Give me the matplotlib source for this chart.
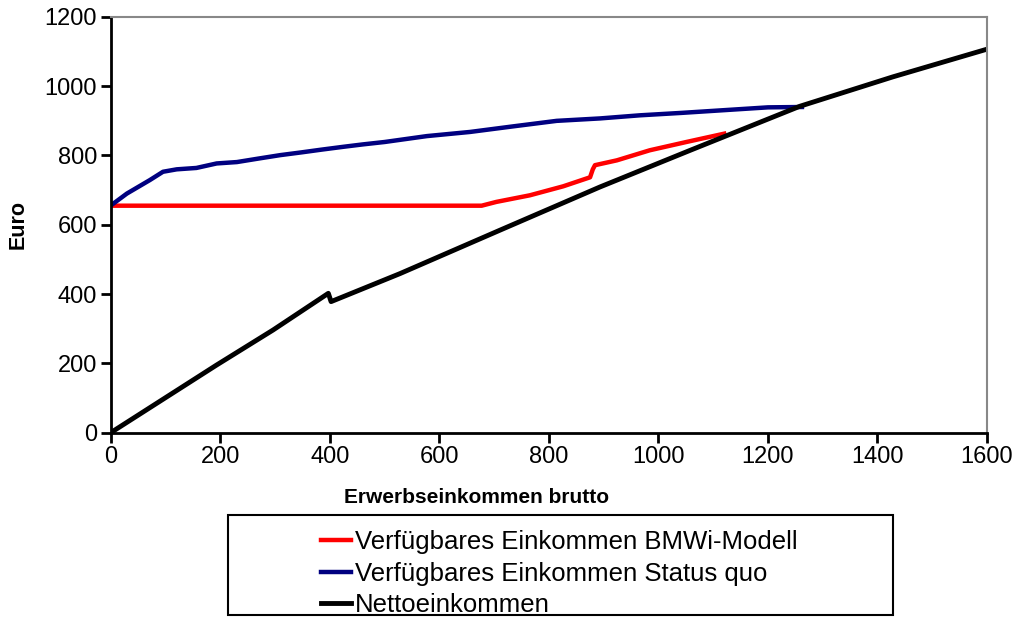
import matplotlib.pyplot as plt
from matplotlib.patches import Rectangle

plt.rcParams['font.family'] = ['Liberation Sans', 'DejaVu Sans']

# Werte
bmwi_x = [0, 677, 704, 765, 826, 875, 880, 884, 924, 984, 1051, 1120]
bmwi_y = [655, 655, 666, 685, 711, 737, 760, 772, 786, 815, 839, 863]

sq_x = [0, 29, 71, 95, 120, 156, 193, 230, 269, 309, 348, 385, 424, 460, 500,
        577, 656, 734, 814, 893, 966, 1042, 1121, 1200, 1262]
sq_y = [656, 690, 729, 753, 760, 764, 777, 781, 791, 801, 809, 817, 825, 832, 839,
        856, 868, 884, 900, 907, 916, 923, 931, 939, 940]

netto_x = [0, 193, 296, 397, 402, 528, 710, 893, 1058, 1258, 1428, 1600]
netto_y = [0, 195, 296, 402, 378, 459, 584, 709, 815, 942, 1027, 1107]

labels = ['Verfügbares Einkommen BMWi-Modell',
          'Verfügbares Einkommen Status quo',
          'Nettoeinkommen']

fig = plt.figure(figsize=(10.21, 6.17), dpi=100)
ax = fig.add_axes([0.1087, 0.299, 0.8580, 0.6735])

ax.plot(bmwi_x, bmwi_y, color='#ff0000', lw=3.2, label=labels[0])
ax.plot(sq_x, sq_y, color='#000080', lw=3.2, label=labels[1])
ax.plot(netto_x, netto_y, color='black', lw=3.5, label=labels[2])

ax.set_xlim(0, 1600)
ax.set_ylim(0, 1200)
ax.set_xticks(range(0, 1601, 200))
ax.set_yticks(range(0, 1201, 200))
ax.tick_params(direction='out', length=7, width=2, labelsize=17)
ax.tick_params(axis='y', pad=3)
ax.tick_params(axis='x', pad=3)

for s in ['left', 'bottom']:
    ax.spines[s].set_linewidth(2)
    ax.spines[s].set_color('black')
for s in ['top', 'right']:
    ax.spines[s].set_linewidth(1.5)
    ax.spines[s].set_color('#888888')

ax.set_ylabel('Euro', fontsize=15.5, fontweight='bold')
ax.yaxis.set_label_coords(-0.094, 0.5)
ax.set_xlabel('Erwerbseinkommen brutto', fontsize=15, fontweight='bold')
ax.xaxis.set_label_coords(0.417, -0.133)

# Rahmen der Legende
fig.patches.append(Rectangle((0.2233, 0.004), 0.6513, 0.161, transform=fig.transFigure,
                             fill=False, edgecolor='black', lw=1.5))
fig.legend(loc='upper left', bbox_to_anchor=(0.314, 0.141), frameon=False,
           fontsize=18.5, handlelength=1.2, handletextpad=0.12, labelspacing=0.3,
           borderpad=0, borderaxespad=0)

plt.savefig('out.png', dpi=100)
plt.close()
